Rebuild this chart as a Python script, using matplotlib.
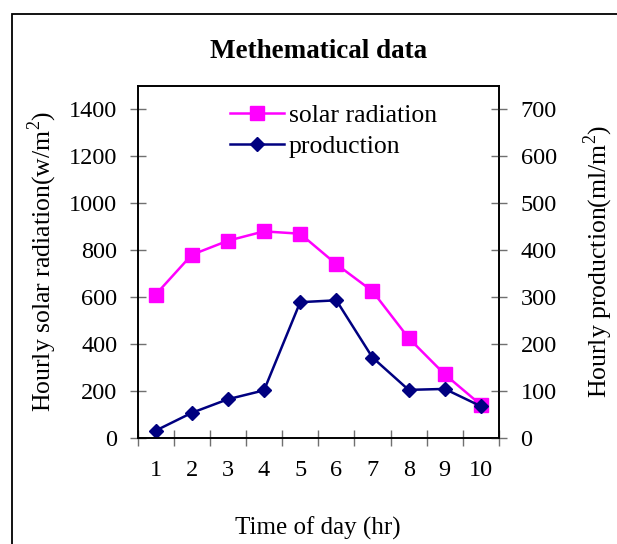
#!/usr/bin/env python3

import matplotlib
matplotlib.use("Agg")
import matplotlib.pyplot as plt
from matplotlib.patches import Rectangle

hours = [1, 2, 3, 4, 5, 6, 7, 8, 9, 10]
solar_radiation = [610, 780, 840, 880, 870, 740, 625, 425, 270, 140]
production = [15, 53, 82, 101, 289, 293, 171, 102, 104, 67]

left_ticks = [0, 200, 400, 600, 800, 1000, 1200, 1400]
right_ticks = [0, 100, 200, 300, 400, 500, 600, 700]

plt.rcParams["font.family"] = ["Liberation Serif", "DejaVu Serif"]
plt.rcParams["mathtext.fontset"] = "custom"
plt.rcParams["mathtext.rm"] = "Liberation Serif"

W, H = 617, 544
fig = plt.figure(figsize=(W / 100, H / 100), dpi=100)

# outer chart border (only left and top are visible in the crop)
fig.patches.append(Rectangle((12 / W, -0.5), 2.0, 0.5 + 1 - 14 / H,
                             transform=fig.transFigure, fill=False,
                             edgecolor="black", linewidth=1.3))

ax = fig.add_axes([137.5 / W, 1 - 437.7 / H, (499 - 137.5) / W, (437.7 - 86) / H])
ax2 = ax.twinx()

ax.plot(hours, solar_radiation, color="#FF00FF", marker="s", markersize=10,
        linewidth=1.8, label="solar radiation", clip_on=False)
ax2.plot(hours, production, color="#000080", marker="D", markersize=7,
         linewidth=1.8, label="production", clip_on=False)

ax.set_xlim(0.5, 10.5)
ax.set_ylim(0, 1500)
ax2.set_ylim(0, 750)
ax.set_yticks(left_ticks)
ax2.set_yticks(right_ticks)
ax.set_xticks(hours)
ax.set_xticks([h + 0.5 for h in [0] + hours], minor=True)

tick_color = "#707070"
ax.tick_params(axis="x", which="major", length=0, pad=16, labelsize=17.5)
ax.tick_params(axis="x", which="minor", direction="inout", length=11,
               width=1, color=tick_color)
ax.tick_params(axis="y", direction="inout", length=11, width=1,
               color=tick_color, pad=9, labelsize=17.5)
ax2.tick_params(axis="y", direction="inout", length=11, width=1,
                color=tick_color, pad=10, labelsize=17.5)

for a in (ax, ax2):
    for s in a.spines.values():
        s.set_linewidth(1.2)

ax.set_title("Methematical data", fontsize=19.5, fontweight="bold", pad=20)
ax.set_xlabel("Time of day (hr)", fontsize=18, labelpad=26)
ax.set_ylabel("Hourly solar radiation(w/m$^2$)", fontsize=18.5, labelpad=7)
ax2.set_ylabel("Hourly production(ml/m$^2$)", fontsize=18.5, labelpad=18)

h1, l1 = ax.get_legend_handles_labels()
h2, l2 = ax2.get_legend_handles_labels()
ax2.legend(h1 + h2, l1 + l2, loc="upper left", bbox_to_anchor=(230 / W, 1 - 104 / H),
           bbox_transform=fig.transFigure, frameon=False, fontsize=18.5,
           handlelength=2.1, handletextpad=0.2, labelspacing=0.3,
           borderpad=0, borderaxespad=0)

fig.savefig("out.png", dpi=100)
